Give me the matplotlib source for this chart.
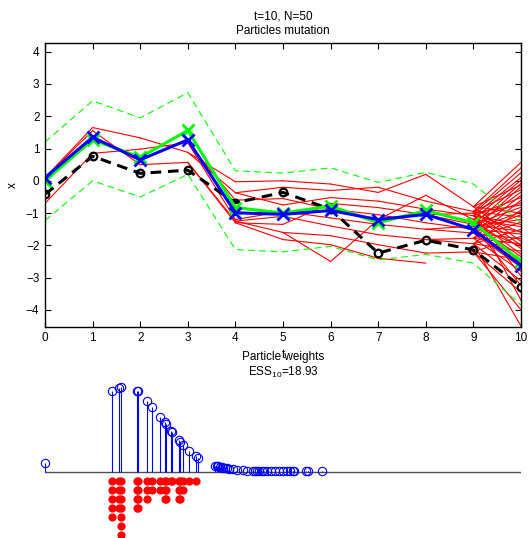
import numpy as np
import matplotlib
matplotlib.use('Agg')
import matplotlib.pyplot as plt

plt.rcParams['font.family'] = ['Liberation Sans', 'DejaVu Sans']
plt.rcParams['mathtext.default'] = 'regular'

times = list(range(11))

# particle genealogy: node values per time step and index of the parent node at t-1
node_x = [
    [0.1, -0.7],
    [1.65, 1.55, 0.85],
    [1.33, 0.98, 0.5],
    [0.88, 1.18, 0.57],
    [-0.03, -0.37, -0.6, -1.2, -1.25, -1.3],
    [0.0, -0.2, -0.55, -0.95, -1.1, -1.35, -1.6, -1.82, -0.75],
    [-0.1, -0.3, -0.52, -0.88, -1.15, -1.4, -1.7, -1.98, -2.5, -0.7],
    [-0.36, -0.2, -0.63, -0.83, -1.05, -1.35, -1.67, -1.98, -2.4, -1.2],
    [0.2, -0.63, -0.88, -1.05, -1.3, -1.5, -1.82, -2.24, -2.55, -0.45],
    [-0.8, -0.95, -1.08, -1.2, -1.35, -1.5, -1.62, -1.78, -1.95, -2.2, -1.0, -1.4],
    [0.57, 0.4, 0.25, 0.1, 0.02, -0.08, -0.13, -0.18, -0.28, -0.35,
     -0.45, -0.52, -0.6, -0.68, -0.75, -0.82, -0.9, -0.97, -1.0, -1.05,
     -1.12, -1.2, -1.28, -1.35, -1.42, -1.5, -1.57, -1.6, -1.65, -1.72,
     -1.8, -1.88, -1.95, -2.0, -2.03, -2.1, -2.18, -2.27, -2.35, -2.45,
     -2.55, -2.68, -2.8, -2.95, -3.1, -3.25, -3.45, -3.7, -4.0, -4.5],
]
node_parent = [
    [],
    [0, 0, 1],
    [0, 2, 1],
    [0, 1, 2],
    [0, 0, 1, 1, 2, 2],
    [0, 1, 2, 3, 4, 5, 4, 5, 1],
    [0, 1, 8, 2, 3, 4, 6, 7, 6, 5],
    [0, 1, 2, 9, 3, 4, 5, 6, 7, 8],
    [0, 1, 2, 3, 4, 5, 6, 7, 8, 9],
    [0, 1, 2, 9, 3, 4, 5, 6, 6, 7, 3, 5],
    [0, 1, 10, 2, 3, 4, 0, 5, 1, 11,
     6, 2, 7, 3, 10, 4, 8, 5, 0, 6,
     1, 11, 7, 2, 3, 8, 4, 10, 5, 9,
     6, 0, 7, 1, 11, 2, 8, 3, 4, 9,
     5, 6, 7, 10, 8, 11, 9, 1, 9, 8],
]

x_true = [-0.42, 0.76, 0.23, 0.33, -0.68, -0.36, -0.88, -2.24, -1.84, -2.14, -3.28]
x_mean = [0.0, 1.27, 0.73, 1.56, -0.83, -1.0, -0.78, -1.3, -0.92, -1.3, -2.5]
x_upper = [1.2, 2.48, 1.95, 2.73, 0.31, 0.24, 0.4, -0.05, 0.26, -0.1, -1.3]
x_lower = [-1.23, 0.0, -0.5, 0.2, -2.13, -2.2, -2.03, -2.45, -2.28, -2.55, -3.85]
x_map = [0.1, 1.35, 0.65, 1.27, -0.99, -1.04, -0.92, -1.2, -1.04, -1.51, -2.63]

# weights of the 50 particles at t=10 and their offspring counts after resampling
w_pos = [0.0,
         1.401, 1.548, 1.597, 1.933, 1.954, 2.149, 2.254, 2.426, 2.511, 2.532,
         2.647, 2.662, 2.821, 2.842, 2.893, 3.019, 3.166, 3.221,
         3.571, 3.607, 3.641, 3.676, 3.712, 3.746, 3.782, 3.830, 3.872, 3.956,
         4.027, 4.166, 4.244, 4.376, 4.412, 4.460, 4.502, 4.553, 4.601, 4.658,
         4.742, 4.832, 4.916, 4.994, 5.090, 5.147, 5.204, 5.237, 5.483, 5.532, 5.826]
w_val = [0.009,
         0.0805, 0.084, 0.085, 0.081, 0.0805, 0.071, 0.065, 0.055, 0.0495, 0.048,
         0.0405, 0.0395, 0.0315, 0.030, 0.027, 0.021, 0.016, 0.0133,
         0.0058, 0.0056, 0.0052, 0.0048, 0.0044, 0.004, 0.0036, 0.0031, 0.0027, 0.0021,
         0.0016, 0.0012, 0.001, 0.0008, 0.0008, 0.0007, 0.0007, 0.0006, 0.0006, 0.0005,
         0.0005, 0.0004, 0.0004, 0.0003, 0.0003, 0.0003, 0.0002, 0.0002, 0.0002, 0.0001, 0.0001]
n_offspring = [0,
               5, 4, 7, 4, 4, 3, 2, 2, 3, 3,
               1, 1, 3, 3, 2, 1, 1, 0] + [0] * 31

fig = plt.figure(figsize=(5.31, 5.38), dpi=100)

ax = fig.add_axes([45 / 531, 1 - 326.7 / 538, 476 / 531, 283.4 / 538])
for t in times[1:]:
    for v, p in zip(node_x[t], node_parent[t]):
        ax.plot([t - 1, t], [node_x[t - 1][p], v], color='r', lw=0.8)
ax.plot(times, x_upper, '--', color='#00ff00', lw=0.8, dashes=(6, 4))
ax.plot(times, x_lower, '--', color='#00ff00', lw=0.8, dashes=(6, 4))
ax.plot(times, x_true, '--', color='k', lw=2.2, dashes=(3.5, 2.2),
        marker='o', ms=5.5, mfc='none', mew=1.6)
ax.plot(times, x_mean, '-', color='#00ff00', lw=2.2, marker='x', ms=8, mew=2)
ax.plot(times, x_map, '-', color='#0000ff', lw=2.2, marker='x', ms=8, mew=2)

ax.set_xlim(0, 10)
ax.set_ylim(-4.52, 4.26)
ax.set_xticks(times)
ax.set_yticks(range(-4, 5))
ax.tick_params(direction='in', top=True, right=True, length=4, width=0.8,
               labelsize=8.5, pad=4)
for s in ax.spines.values():
    s.set_linewidth(1.0)
ax.set_title('t=10, N=50\nParticles mutation', fontsize=8.5, pad=7)
ax.set_xlabel('t', fontsize=8.5, labelpad=3.5)
ax.set_ylabel('x', fontsize=8.5, labelpad=5)

ax2 = fig.add_axes([45 / 531, 1 - 535 / 538, 476 / 531, 155 / 538])
ax2.set_xlim(0, 10)
ax2.set_ylim(-0.0635, 0.0915)
ax2.axis('off')
ax2.axhline(0, color='0.3', lw=1.0)
ax2.vlines(w_pos, 0, w_val, color='#0000ff', lw=0.8, clip_on=False)
ax2.plot(w_pos, w_val, 'o', mfc='none', mec='#0000ff', ms=6, mew=0.8, clip_on=False)
for pos, c in zip(w_pos, n_offspring):
    if c:
        ax2.plot([pos] * c, [-0.009 * k - 0.0005 for k in range(1, c + 1)],
                 'o', color='r', ms=4.9, clip_on=False)
ax2.set_title('Particle weights\nESS$_{10}$=18.93', fontsize=8.5, pad=1)

fig.savefig('out.png', dpi=100)
